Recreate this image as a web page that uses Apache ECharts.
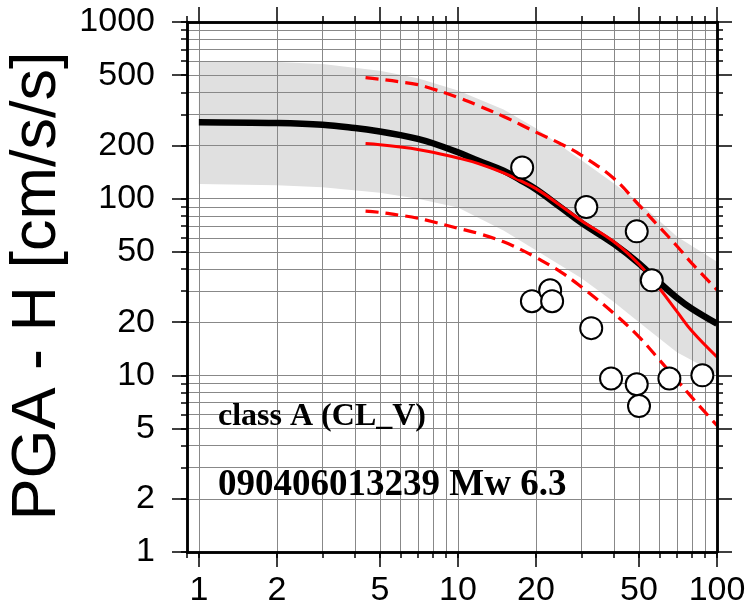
<!DOCTYPE html>
<html><head><meta charset="utf-8">
<script src="https://cdn.jsdelivr.net/npm/echarts@6/dist/echarts.min.js"></script>
<style>html,body{margin:0;padding:0;background:#fff}#c{width:749px;height:615px}</style>
</head><body><div id="c"></div>
<script>
// ---- tick values ----
const xMajorTicks = [1, 2, 5, 10, 20, 50, 100];
const xMinorTicks = [0.9, 1, 2, 3, 4, 5, 6, 7, 8, 9, 10, 20, 30, 40, 50, 60, 70, 80, 90, 100];
const yMajorTicks = [1, 2, 5, 10, 20, 50, 100, 200, 500, 1000];
const yMinorTicks = [1, 2, 3, 4, 5, 6, 7, 8, 9, 10, 20, 30, 40, 50, 60, 70, 80, 90, 100, 200, 300, 400, 500, 600, 700, 800, 900, 1000];

// ---- gray band (±1 sigma) ----
const bandX     = [1, 2, 3, 5, 7, 10, 15, 20, 30, 40, 50, 70, 100];
const bandUpper = [600, 593, 578, 530, 480, 410, 320, 250, 165, 122, 95, 61, 44];
const bandLower = [121, 119, 116, 108, 100, 89, 66, 51, 35.5, 26, 20, 13.5, 10.2];

// ---- black thick curve ----
const blackX = [1, 2, 3, 4, 5, 6, 7, 8, 10, 12, 15, 17.5, 20, 25, 30, 40, 50, 60, 70, 80, 100];
const blackY = [271, 268, 262, 251, 240, 229, 218, 206, 183, 164, 144, 127, 113, 89, 73, 55.5, 43, 33.5, 27.5, 23.8, 19.6];

// ---- red curves ----
const redX      = [4.4, 5, 6, 7, 8, 10, 12, 15, 17.5, 20, 25, 30, 40, 50, 60, 70, 80, 100];
const redMid    = [205, 202, 196, 190, 183, 170, 158, 140, 126, 114, 91, 75, 57, 42.5, 31, 23, 17.8, 12.7];
const redUpper  = [484, 474, 458, 442, 418, 374, 336, 292, 262, 238, 204, 176, 130, 92, 69, 54, 43, 30.5];
const redLower  = [85, 83.6, 80.5, 77.5, 74, 68, 63.5, 57, 51.5, 46.5, 38.4, 31.6, 22.4, 16.5, 12.2, 9.4, 7.5, 5.2];

// ---- observations ----
const obsDist = [17.7, 31.3, 49, 56, 19.3, 22.7, 23.1, 32.7, 39, 49, 50, 65.5, 87.8];
const obsPGA  = [150, 89.6, 65.3, 34.5, 26.3, 30.3, 26.3, 18.5, 9.6, 8.9, 6.7, 9.6, 10];

const classText = 'class A (CL_V)';
const eventText = '090406013239 Mw 6.3';
const yTitle = 'PGA - H [cm/s/s]';

const zip = (a, b) => a.map((v, i) => [v, b[i]]);
const FONT = '"Liberation Sans", Arial, Helvetica, sans-serif';
const SERIF = '"Liberation Serif", "Times New Roman", serif';

function xAx(pos, ticks, len, showLabel, showSplit, z) {
  return {
    type: 'log', logBase: 10, min: 0.9, max: 100, position: pos, z: z,
    axisLine: { show: true, onZero: false, lineStyle: { color: '#000', width: 2.5 } },
    axisTick: { show: true, inside: false, length: len, customValues: ticks, lineStyle: { color: '#000', width: 1.5 } },
    axisLabel: { show: showLabel, customValues: ticks, margin: 22, color: '#000', fontSize: 34, fontFamily: FONT,
      formatter: v => String(v) },
    splitLine: { show: showSplit, lineStyle: { color: '#888', width: 1 } },
    minorTick: { show: false }, minorSplitLine: { show: false }
  };
}
function yAx(pos, ticks, len, showLabel, showSplit, z) {
  return {
    type: 'log', logBase: 10, min: 1, max: 1000, position: pos, z: z,
    axisLine: { show: true, onZero: false, lineStyle: { color: '#000', width: 2.5 } },
    axisTick: { show: true, inside: false, length: len, customValues: ticks, lineStyle: { color: '#000', width: 1.5 } },
    axisLabel: { show: showLabel, customValues: ticks, margin: 32, color: '#000', fontSize: 34, fontFamily: FONT,
      formatter: v => String(v) },
    splitLine: { show: showSplit, lineStyle: { color: '#888', width: 1 } },
    minorTick: { show: false }, minorSplitLine: { show: false }
  };
}

const chart = echarts.init(document.getElementById('c'), null, { renderer: 'canvas' });
chart.setOption({
  animation: false,
  backgroundColor: '#fff',
  grid: { left: 187, right: 32, top: 22, bottom: 63, containLabel: false },
  xAxis: [
    xAx('bottom', xMajorTicks, 15, true, false, 10),
    xAx('bottom', xMinorTicks, 6, false, true, 3),
    xAx('top', xMajorTicks, 15, false, false, 10),
    xAx('top', xMinorTicks, 6, false, false, 10)
  ],
  yAxis: [
    yAx('left', yMajorTicks, 15, true, false, 10),
    yAx('left', yMinorTicks, 6, false, true, 3),
    yAx('right', yMajorTicks, 15, false, false, 10),
    yAx('right', yMinorTicks, 6, false, false, 10)
  ],
  series: [
    {
      type: 'custom', z: 1, silent: true,
      xAxisIndex: 0, yAxisIndex: 0,
      data: bandX.map((x, i) => [x, bandLower[i], bandUpper[i]]),
      encode: { x: 0, y: [1, 2] },
      renderItem: function (params, api) {
        if (params.dataIndex !== 0) return null;
        const up = [], lo = [];
        for (let i = 0; i < bandX.length; i++) {
          up.push(api.coord([bandX[i], bandUpper[i]]));
          lo.push(api.coord([bandX[i], bandLower[i]]));
        }
        return { type: 'polygon', shape: { points: up.concat(lo.reverse()) }, style: { fill: '#e0e0e0', stroke: null } };
      }
    },
    { type: 'line', z: 5, data: zip(blackX, blackY), showSymbol: false, smooth: 0.4,
      lineStyle: { color: '#000', width: 6.5 } },
    { type: 'line', z: 6, data: zip(redX, redMid), showSymbol: false, smooth: 0.4,
      lineStyle: { color: '#ff0000', width: 3 } },
    { type: 'line', z: 6, data: zip(redX, redUpper), showSymbol: false, smooth: 0.4,
      lineStyle: { color: '#ff0000', width: 3.2, type: [13, 7] } },
    { type: 'line', z: 6, data: zip(redX, redLower), showSymbol: false, smooth: 0.4,
      lineStyle: { color: '#ff0000', width: 3.2, type: [13, 7] } },
    { type: 'scatter', z: 8, data: zip(obsDist, obsPGA), symbol: 'circle', symbolSize: 22,
      itemStyle: { color: '#fff', borderColor: '#000', borderWidth: 2, opacity: 1 } }
  ],
  graphic: [
    { type: 'text', x: 38, y: 286, rotation: Math.PI / 2, z: 20,
      style: { text: yTitle, font: '63px ' + FONT, fill: '#000', align: 'center', verticalAlign: 'middle' } },
    { type: 'text', x: 218, y: 417, z: 20,
      style: { text: classText, font: 'bold 32px ' + SERIF, fill: '#000', align: 'left', verticalAlign: 'middle' } },
    { type: 'text', x: 218, y: 485, z: 20,
      style: { text: eventText, font: 'bold 37px ' + SERIF, fill: '#000', align: 'left', verticalAlign: 'middle' } }
  ]
});
</script></body></html>
